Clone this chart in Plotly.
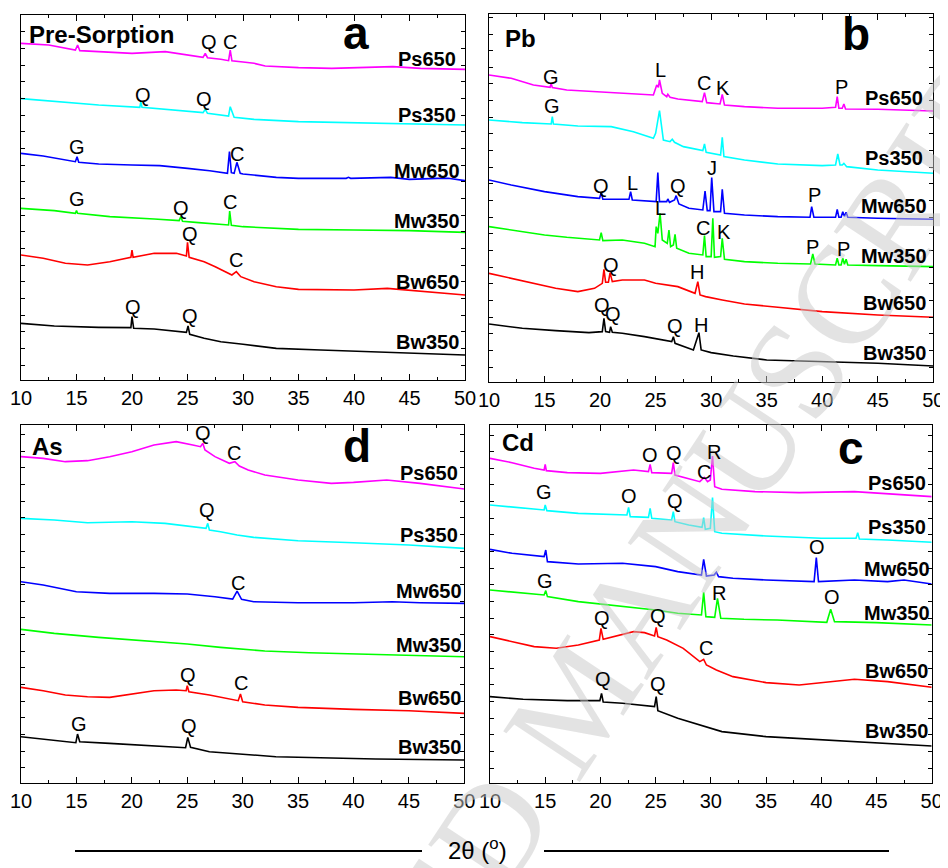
import plotly.graph_objects as go

# ---------------- tick labels ----------------
two_theta_ticks = [10, 15, 20, 25, 30, 35, 40, 45, 50]
sample_names = ["Ps650", "Ps350", "Mw650", "Mw350", "Bw650", "Bw350"]
sample_colors = ["#FF00FF", "#00FFFF", "#0000FF", "#00FF00", "#FF0000", "#000000"]

# ---------------- panel a : Pre-Sorption ----------------
a_ps650_x = [10, 12.5, 14.9, 15.1, 15.3, 17, 20, 23, 25, 26.4, 26.6, 26.8, 28, 28.7, 28.85, 29.0, 30, 31, 32, 35, 38, 42, 43.5, 46, 50]
a_ps650_y = [1010, 1005, 990, 1005, 988, 985, 980, 985, 975, 968, 980, 967, 962, 958, 990, 958, 954, 950, 942, 937, 935, 938, 940, 935, 932]
a_ps350_x = [10, 13, 17, 20.7, 20.8, 20.9, 23, 26.4, 26.6, 26.8, 28.7, 28.85, 29.2, 31, 35, 40, 45, 50]
a_ps350_y = [844, 835, 825, 818, 835, 818, 812, 802, 812, 800, 792, 820, 788, 782, 775, 772, 770, 765]
a_mw650_x = [10, 12, 14.9, 15.05, 15.2, 17, 20, 22.5, 25, 27, 28.6, 28.78, 28.95, 29.2, 29.45, 29.75, 30, 31, 33, 35, 39.3, 39.5, 39.7, 43.3, 45, 47.5, 48.5, 50]
a_mw650_y = [680, 672, 655, 670, 653, 648, 645, 643, 635, 628, 620, 685, 622, 620, 653, 620, 618, 615, 608, 605, 605, 608, 605, 608, 602, 605, 605, 598]
a_mw350_x = [10, 13, 14.9, 15.0, 15.1, 18, 22, 24.25, 24.4, 24.55, 26, 28.7, 28.8, 28.95, 30, 35, 40, 45, 50]
a_mw350_y = [515, 508, 500, 508, 500, 490, 483, 478, 490, 476, 472, 465, 507, 464, 460, 452, 450, 448, 443]
a_bw650_x = [10, 12, 14, 16, 18, 19.9, 20.0, 20.1, 22, 24, 24.9, 25.0, 25.15, 26.5, 27.5, 29, 29.4, 29.8, 31, 33, 35, 40, 43, 46, 50]
a_bw650_y = [375, 365, 350, 345, 355, 368, 390, 368, 380, 380, 372, 413, 368, 355, 340, 315, 325, 310, 295, 280, 272, 270, 275, 267, 255]
a_bw350_x = [10, 13, 17, 19.9, 20.0, 20.15, 22, 24.9, 25.05, 25.2, 26.5, 28, 30, 33, 37, 42, 46, 50]
a_bw350_y = [170, 162, 158, 157, 190, 155, 153, 143, 162, 137, 125, 115, 107, 95, 90, 85, 80, 75]
a_label_y = [962, 795, 628, 478, 295, 115]
a_peak_text = ["Q", "C", "Q", "Q", "G", "C", "G", "Q", "C", "Q", "C", "Q", "Q"]
a_peak_x = [26.9, 28.8, 21.0, 26.5, 15.0, 29.5, 15.0, 24.4, 28.8, 25.2, 29.4, 20.1, 25.2]
a_peak_y = [1015, 1015, 855, 842, 698, 678, 542, 515, 535, 437, 360, 220, 192]

# ---------------- panel b : Pb ----------------
b_ps650_x = [10, 12, 14, 15.5, 15.6, 15.7, 17, 20, 23, 24.8, 25.1, 25.25, 25.35, 25.6, 26.0, 26.1, 26.3, 27, 29.2, 29.4, 29.6, 30.8, 31.0, 31.2, 33, 36, 40, 41.2, 41.35, 41.5, 41.8, 41.95, 42.1, 45, 50]
b_ps650_y = [922, 912, 892, 885, 897, 884, 877, 872, 867, 862, 892, 885, 907, 867, 857, 864, 855, 850, 842, 869, 839, 835, 864, 832, 827, 822, 822, 825, 857, 822, 822, 835, 820, 819, 814]
b_ps350_x = [10, 13, 15.6, 15.7, 15.8, 18, 21, 23, 24.8, 25.0, 25.35, 25.7, 26.3, 26.5, 26.7, 27.5, 29.25, 29.4, 29.55, 30.85, 31.0, 31.15, 33, 36, 40, 41.2, 41.4, 41.6, 41.8, 41.95, 42.2, 45, 50]
b_ps350_y = [787, 779, 775, 797, 775, 769, 767, 752, 732, 747, 815, 727, 722, 729, 720, 707, 695, 715, 690, 682, 735, 677, 667, 655, 650, 652, 685, 652, 652, 657, 647, 637, 627]
b_mw650_x = [10, 12, 15, 18, 19.95, 20.1, 20.25, 22.6, 22.75, 22.9, 25.05, 25.2, 25.35, 26.0, 26.1, 26.25, 26.7, 26.85, 27.1, 28, 29.25, 29.45, 29.65, 29.9, 30.05, 30.25, 30.85, 31.0, 31.2, 33, 36, 38.9, 39.05, 39.25, 41.2, 41.35, 41.5, 41.7, 41.85, 42.0, 42.15, 42.3, 45, 50]
b_mw650_y = [607, 592, 572, 557, 552, 569, 549, 549, 572, 547, 542, 629, 542, 542, 550, 540, 547, 560, 535, 522, 517, 574, 515, 515, 614, 512, 512, 579, 507, 502, 497, 495, 527, 495, 495, 519, 495, 495, 512, 498, 510, 495, 492, 489]
b_mw350_x = [10, 12, 15, 17, 19.95, 20.1, 20.25, 22, 24, 24.95, 25.05, 25.2, 25.4, 25.6, 26.05, 26.2, 26.35, 26.6, 26.75, 26.9, 28, 29.25, 29.4, 29.55, 30.0, 30.15, 30.3, 30.85, 31.0, 31.2, 33, 36, 38.95, 39.15, 39.35, 41.2, 41.35, 41.5, 41.7, 41.85, 42.0, 42.15, 42.3, 45, 50]
b_mw350_y = [467, 457, 442, 435, 427, 449, 425, 427, 417, 407, 467, 447, 507, 427, 417, 457, 407, 412, 444, 402, 387, 382, 440, 377, 377, 492, 375, 377, 432, 369, 362, 357, 355, 385, 355, 352, 372, 352, 352, 372, 354, 369, 352, 350, 347]
b_bw650_x = [10, 12, 14, 16, 18, 19.5, 20.2, 20.35, 20.5, 20.75, 20.9, 21.1, 22, 24, 25, 27, 28.55, 28.8, 29.0, 29.5, 31, 33, 36, 40, 45, 50]
b_bw650_y = [327, 312, 297, 282, 272, 282, 297, 339, 300, 300, 329, 302, 307, 307, 297, 287, 267, 302, 262, 257, 247, 235, 225, 212, 202, 195]
b_bw350_x = [10, 13, 16, 19, 20.2, 20.35, 20.5, 20.85, 20.95, 21.1, 22, 24, 26.45, 26.6, 26.75, 28.4, 28.9, 29.1, 30, 32, 35, 40, 45, 50]
b_bw350_y = [175, 162, 155, 149, 152, 192, 152, 150, 167, 150, 147, 137, 122, 137, 117, 97, 149, 97, 89, 79, 67, 62, 57, 49]
b_label_y = [854, 672, 529, 379, 237, 89]
b_peak_text = ["G", "L", "C", "K", "P", "G", "Q", "L", "Q", "J", "P", "L", "C", "K", "P", "P", "Q", "H", "Q", "Q", "Q", "H"]
b_peak_x = [15.6, 25.45, 29.4, 31.1, 41.7, 15.7, 20.05, 22.9, 27.0, 30.1, 39.3, 25.4, 29.3, 31.2, 39.1, 41.9, 21.0, 28.7, 20.2, 21.2, 26.7, 29.05]
b_peak_y = [917, 937, 897, 882, 887, 829, 589, 597, 589, 644, 562, 522, 462, 450, 407, 399, 352, 332, 232, 205, 169, 172]

# ---------------- panel d : As ----------------
d_ps650_x = [10, 12, 14, 16, 18, 20, 22, 24, 25.5, 26.2, 26.4, 26.6, 27.5, 28.8, 29.3, 29.7, 30.5, 32, 35, 38, 40, 43, 46, 50]
d_ps650_y = [978, 973, 963, 966, 978, 993, 1013, 1023, 1013, 1008, 1018, 998, 978, 958, 963, 950, 938, 923, 908, 898, 901, 908, 898, 881]
d_ps350_x = [10, 13, 16, 20, 23, 25, 26.7, 26.85, 27.0, 28, 29.5, 31, 35, 40, 45, 50]
d_ps350_y = [793, 788, 780, 783, 778, 770, 763, 778, 758, 753, 743, 736, 726, 720, 713, 703]
d_mw650_x = [10, 12, 15, 18, 22, 25, 27.5, 29.1, 29.5, 29.9, 31, 35, 40, 43.5, 46, 50]
d_mw650_y = [603, 593, 573, 568, 568, 566, 558, 551, 575, 550, 543, 540, 540, 543, 540, 538]
d_mw350_x = [10, 13, 17, 21, 25, 28, 32, 36, 40, 45, 50]
d_mw350_y = [460, 448, 436, 426, 416, 406, 395, 390, 386, 383, 378]
d_bw650_x = [10, 12, 14, 16, 18, 20, 22, 24, 24.9, 25.0, 25.15, 27, 29.6, 29.8, 30.0, 32, 35, 40, 45, 50]
d_bw650_y = [286, 276, 263, 258, 256, 266, 276, 278, 276, 291, 273, 263, 246, 266, 243, 233, 226, 220, 216, 208]
d_bw350_x = [10, 13, 14.95, 15.1, 15.3, 18, 21, 24.85, 25.05, 25.3, 27, 30, 33, 37, 42, 50]
d_bw350_y = [138, 128, 120, 146, 123, 118, 113, 105, 136, 106, 93, 85, 78, 75, 71, 68]
d_label_y = [928, 743, 575, 413, 253, 108]
d_peak_text = ["Q", "C", "Q", "C", "Q", "C", "G", "Q"]
d_peak_x = [26.45, 29.25, 26.8, 29.55, 25.1, 29.85, 15.25, 25.2]
d_peak_y = [1048, 990, 818, 600, 323, 298, 176, 170]

# ---------------- panel c : Cd ----------------
c_ps650_x = [10, 12, 14, 14.9, 15.0, 15.1, 17, 20, 23, 24.35, 24.5, 24.65, 26.45, 26.6, 26.75, 28, 29.0, 29.4, 29.7, 29.95, 30.15, 30.35, 31, 34, 38, 43, 46, 50]
c_ps650_y = [975, 962, 945, 940, 957, 938, 932, 930, 940, 935, 957, 932, 930, 962, 925, 915, 905, 918, 905, 910, 982, 890, 882, 875, 872, 875, 868, 860]
c_ps350_x = [10, 13, 14.9, 15.0, 15.15, 18, 22.4, 22.55, 22.7, 24.35, 24.5, 24.65, 26.45, 26.6, 26.75, 28, 29.2, 29.35, 29.5, 29.95, 30.15, 30.35, 31, 35, 40, 43.15, 43.3, 43.45, 46, 50]
c_ps350_y = [835, 825, 820, 835, 818, 810, 805, 828, 800, 798, 825, 795, 790, 815, 785, 775, 768, 797, 762, 765, 857, 755, 750, 742, 735, 735, 752, 733, 730, 723]
c_mw650_x = [10, 12, 14.9, 15.05, 15.2, 18, 22, 25, 27, 29.15, 29.35, 29.6, 30.3, 30.5, 30.7, 32, 35, 39.35, 39.55, 39.75, 43, 46, 47.5, 50]
c_mw650_y = [702, 690, 680, 700, 665, 658, 660, 650, 635, 625, 672, 622, 625, 633, 620, 615, 610, 605, 677, 605, 610, 605, 610, 598]
c_mw350_x = [10, 13, 14.9, 15.05, 15.2, 18, 22, 25, 27, 29.15, 29.35, 29.55, 30.35, 30.6, 30.9, 33, 36, 40.5, 40.85, 41.2, 45, 50]
c_mw350_y = [580, 570, 565, 578, 560, 545, 530, 520, 510, 505, 573, 500, 498, 555, 495, 492, 490, 483, 522, 485, 482, 475]
c_bw650_x = [10, 12, 14, 16, 18, 19.9, 20.05, 20.25, 21, 23, 24, 24.9, 25.05, 25.2, 26, 27.5, 29.0, 29.35, 29.6, 30.5, 32, 35, 38, 40, 43, 46, 50]
c_bw650_y = [440, 425, 410, 405, 415, 430, 465, 432, 438, 455, 452, 442, 468, 440, 430, 405, 365, 372, 355, 340, 320, 302, 295, 302, 312, 305, 288]
c_bw350_x = [10, 13, 17, 19.95, 20.1, 20.25, 22, 24, 24.9, 25.05, 25.2, 27, 29, 31, 35, 40, 45, 50]
c_bw350_y = [260, 252, 248, 248, 270, 244, 240, 232, 230, 260, 218, 195, 175, 155, 140, 130, 122, 112]
c_label_y = [902, 768, 643, 510, 338, 158]
c_peak_text = ["O", "Q", "C", "R", "G", "O", "Q", "O", "G", "R", "O", "Q", "Q", "C", "Q", "Q"]
c_peak_x = [24.5, 26.7, 29.4, 30.3, 14.9, 22.6, 26.75, 39.65, 15.0, 30.75, 40.95, 20.1, 25.2, 29.55, 20.2, 25.25]
c_peak_y = [985, 990, 935, 995, 875, 862, 847, 710, 607, 572, 558, 495, 502, 405, 312, 298]

watermark_text = "ACCEPTED MANUSCRIPT"

FONT = "Liberation Sans, Arial, sans-serif"
W, H = 948, 868
OFF = 8  # page body margin of the html page


def px_x(px):
    return (px - OFF) / W


def px_y(py):
    return 1 - (py - OFF) / H


panels = [
    dict(ax="", series=[(a_ps650_x, a_ps650_y), (a_ps350_x, a_ps350_y), (a_mw650_x, a_mw650_y),
                         (a_mw350_x, a_mw350_y), (a_bw650_x, a_bw650_y), (a_bw350_x, a_bw350_y)],
         label_y=a_label_y, peaks=(a_peak_text, a_peak_x, a_peak_y), title="Pre-Sorption",
         title_pos=(10.5, 1035), letter="a", letter_pos=(40.2, 1040), label_x=46.6,
         box=(21, 465, 15, 380), ymax=1095),
    dict(ax="2", series=[(b_ps650_x, b_ps650_y), (b_ps350_x, b_ps350_y), (b_mw650_x, b_mw650_y),
                          (b_mw350_x, b_mw350_y), (b_bw650_x, b_bw650_y), (b_bw350_x, b_bw350_y)],
         label_y=b_label_y, peaks=(b_peak_text, b_peak_x, b_peak_y), title="Pb",
         title_pos=(11.3, 1032), letter="b", letter_pos=(43.05, 1045), label_x=46.5,
         box=(489, 933.3, 14, 382.3), ymax=1105),
    dict(ax="3", series=[(d_ps650_x, d_ps650_y), (d_ps350_x, d_ps350_y), (d_mw650_x, d_mw650_y),
                          (d_mw350_x, d_mw350_y), (d_bw650_x, d_bw650_y), (d_bw350_x, d_bw350_y)],
         label_y=d_label_y, peaks=(d_peak_text, d_peak_x, d_peak_y), title="As",
         title_pos=(10.8, 1010), letter="d", letter_pos=(40.35, 1010), label_x=46.85,
         box=(21, 464.3, 425, 782.7), ymax=1073),
    dict(ax="4", series=[(c_ps650_x, c_ps650_y), (c_ps350_x, c_ps350_y), (c_mw650_x, c_mw650_y),
                          (c_mw350_x, c_mw350_y), (c_bw650_x, c_bw650_y), (c_bw350_x, c_bw350_y)],
         label_y=c_label_y, peaks=(c_peak_text, c_peak_x, c_peak_y), title="Cd",
         title_pos=(10.95, 1022), letter="c", letter_pos=(42.7, 1005), label_x=46.85,
         box=(490, 931.7, 425, 783.3), ymax=1075),
]

fig = go.Figure()
annotations = []
layout = {}

# faint diagonal watermark
annotations.append(dict(x=px_x(577), y=px_y(699), xref="paper", yref="paper", text=watermark_text,
                        showarrow=False, textangle=-56.5, xanchor="center", yanchor="middle",
                        font=dict(family="Liberation Serif, Times New Roman, serif", size=140,
                                  color="rgba(200,200,200,0.5)")))

for p in panels:
    xa = "x" + p["ax"]
    ya = "y" + p["ax"]
    x0, x1, y0, y1 = p["box"]
    for (xs, ys), name, col in zip(p["series"], sample_names, sample_colors):
        fig.add_trace(go.Scatter(x=xs, y=ys, mode="lines", name=name,
                                 line=dict(color=col, width=1.6), xaxis=xa, yaxis=ya,
                                 showlegend=False, hoverinfo="skip"))
    for name, ly in zip(sample_names, p["label_y"]):
        annotations.append(dict(x=p["label_x"], y=ly, xref=xa, yref=ya, text="<b>%s</b>" % name,
                                showarrow=False, xanchor="center", yanchor="middle",
                                font=dict(family=FONT, size=20, color="black")))
    for t, px, py in zip(*p["peaks"]):
        annotations.append(dict(x=px, y=py, xref=xa, yref=ya, text=t, showarrow=False,
                                xanchor="center", yanchor="middle",
                                font=dict(family=FONT, size=20, color="black")))
    annotations.append(dict(x=p["title_pos"][0], y=p["title_pos"][1], xref=xa, yref=ya,
                            text="<b>%s</b>" % p["title"], showarrow=False, xanchor="left",
                            yanchor="middle", font=dict(family=FONT, size=24, color="black")))
    annotations.append(dict(x=p["letter_pos"][0], y=p["letter_pos"][1], xref=xa, yref=ya,
                            text="<b>%s</b>" % p["letter"], showarrow=False, xanchor="center",
                            yanchor="middle", font=dict(family=FONT, size=46, color="black")))
    layout["xaxis" + p["ax"]] = dict(
        domain=[px_x(x0), px_x(x1)], range=[10, 50], tickmode="array", tickvals=two_theta_ticks,
        ticktext=[str(v) for v in two_theta_ticks], ticks="inside", ticklen=6, tickwidth=1.2,
        tickcolor="black", minor=dict(ticks="inside", ticklen=3, dtick=2.5, tick0=10, tickcolor="black"),
        showline=True, linecolor="black", linewidth=1.3, mirror="ticks", showgrid=False,
        zeroline=False, tickfont=dict(family=FONT, size=20, color="black"), anchor=ya,
        automargin=False)
    layout["yaxis" + p["ax"]] = dict(
        domain=[px_y(y1), px_y(y0)], range=[0, p["ymax"]], showticklabels=False, ticks="inside",
        ticklen=4, tick0=45, dtick=50, tickcolor="black", tickwidth=1, showline=True,
        linecolor="black", linewidth=1.3, mirror="ticks", showgrid=False, zeroline=False,
        anchor=xa, automargin=False)

annotations.append(dict(x=px_x(477), y=px_y(849), xref="paper", yref="paper",
                        text="2\u03b8 (<sup>o</sup>)", showarrow=False, xanchor="center",
                        yanchor="middle", font=dict(family=FONT, size=24, color="black")))
shapes = [
    dict(type="line", xref="paper", yref="paper", x0=px_x(75), x1=px_x(422),
         y0=px_y(851), y1=px_y(851), line=dict(color="black", width=2)),
    dict(type="line", xref="paper", yref="paper", x0=px_x(544), x1=px_x(889),
         y0=px_y(851), y1=px_y(851), line=dict(color="black", width=2)),
]

fig.update_layout(width=W, height=H, margin=dict(l=0, r=0, t=0, b=0, autoexpand=False),
                  paper_bgcolor="white", plot_bgcolor="white",
                  annotations=annotations, shapes=shapes, **layout)

fig.write_html("out.html")
